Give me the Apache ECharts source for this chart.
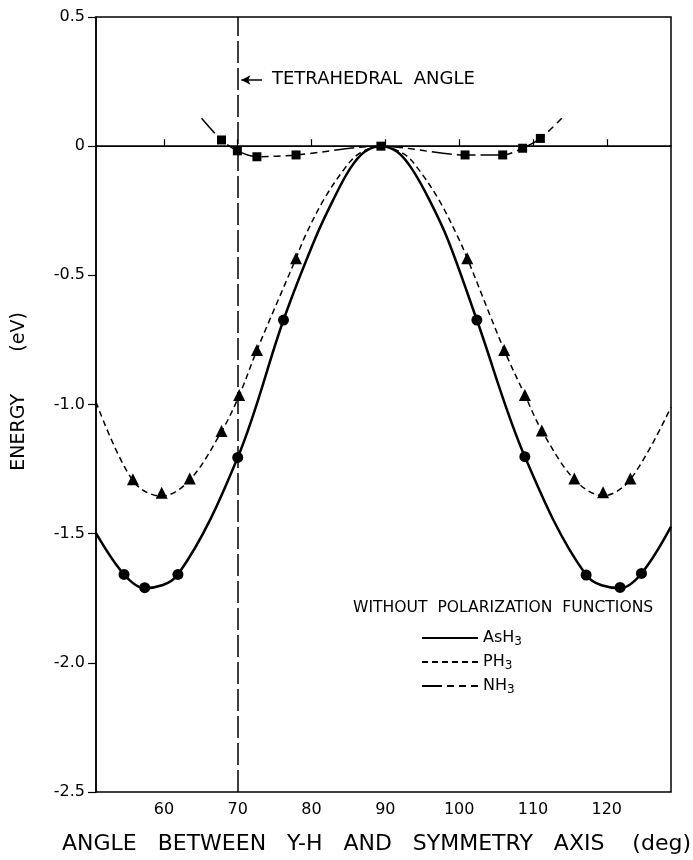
<!DOCTYPE html>
<html>
<head>
<meta charset="utf-8">
<script src="https://cdn.jsdelivr.net/npm/echarts@6/dist/echarts.min.js"></script>
<style>
  html, body { margin: 0; padding: 0; background: #fff; }
  #chart { width: 693px; height: 860px; }
</style>
</head>
<body>
<div id="chart"></div>
<script>
// values (angle in deg, energy in eV)
const xTicks = [60, 70, 80, 90, 100, 110, 120]

// computed points (markers)
const asMarkX = [54.6, 57.4, 61.9, 70.0, 76.2, 102.4, 108.9, 117.2, 121.8, 124.7]
const asMarkY = [-1.658, -1.709, -1.658, -1.205, -0.673, -0.673, -1.202, -1.660, -1.708, -1.654]
const phMarkX = [55.8, 59.7, 63.5, 67.8, 70.2, 72.6, 77.9, 101.1, 106.1, 108.9, 111.2, 115.6, 119.5, 123.2]
const phMarkY = [-1.289, -1.342, -1.286, -1.103, -0.963, -0.789, -0.434, -0.434, -0.789, -0.963, -1.101, -1.286, -1.340, -1.286]
const nhMarkX = [67.8, 69.95, 72.6, 77.9, 89.4, 100.8, 105.9, 108.6, 111.0]
const nhMarkY = [0.024, -0.018, -0.041, -0.034, 0.0, -0.034, -0.034, -0.008, 0.030]

// fitted curves
const asCurveX = [50.8, 54.6, 57.4, 61.9, 70.0, 76.2, 80.4, 82.9, 85.2, 87.2, 89.4, 91.6, 93.6, 96.0, 98.5, 102.4, 108.9, 117.2, 121.8, 124.7, 128.7]
const asCurveY = [-1.498, -1.658, -1.711, -1.658, -1.205, -0.673, -0.364, -0.210, -0.088, -0.022, 0, -0.022, -0.088, -0.210, -0.364, -0.673, -1.202, -1.660, -1.711, -1.654, -1.473]
const phCurveX = [50.8, 55.8, 59.7, 63.5, 67.8, 70.2, 72.6, 77.9, 79.1, 81.6, 84.5, 86.4, 89.4, 92.5, 94.4, 97.3, 99.8, 101.1, 106.1, 108.9, 111.2, 115.6, 119.5, 123.2, 128.7]
const phCurveY = [-0.99, -1.295, -1.355, -1.292, -1.105, -0.965, -0.79, -0.434, -0.35, -0.21, -0.086, -0.030, 0, -0.030, -0.086, -0.21, -0.35, -0.434, -0.789, -0.963, -1.101, -1.29, -1.353, -1.29, -1.01]
const nhCurveX = [65.1, 67.8, 69.95, 72.6, 77.9, 89.4, 100.8, 105.9, 108.6, 111.0, 113.9]
const nhCurveY = [0.108, 0.024, -0.018, -0.041, -0.034, 0.0, -0.034, -0.034, -0.008, 0.030, 0.108]

const tetrahedral = 70

const zip = (xs, ys) => xs.map((x, i) => [x, ys[i]])
const font = 'DejaVu Sans'

const chart = echarts.init(document.getElementById('chart'))

const option = {
  animation: false,
  backgroundColor: '#fff',
  textStyle: { fontFamily: font, color: '#000' },
  grid: {
    left: 96, right: 22, top: 17, bottom: 68,
    outerBoundsMode: 'none',
    show: true, borderColor: '#000', borderWidth: 1.5,
  },
  xAxis: {
    type: 'value',
    min: 50.8,
    max: 128.7,
    name: 'ANGLE   BETWEEN   Y-H   AND   SYMMETRY   AXIS    (deg)',
    nameLocation: 'middle',
    nameGap: 41,
    nameTextStyle: { fontSize: 22, color: '#000', fontFamily: font, padding: [0, 14, 0, 0] },
    axisLine: { show: true, lineStyle: { color: '#000', width: 1.5 } },
    axisTick: { show: true, inside: true, length: 7, customValues: xTicks, lineStyle: { color: '#000', width: 1.2 } },
    axisLabel: { customValues: xTicks, margin: 10, fontSize: 16, color: '#000', fontFamily: font },
    splitLine: { show: false },
  },
  yAxis: {
    type: 'value',
    min: -2.5,
    max: 0.5,
    interval: 0.5,
    name: 'ENERGY       (eV)',
    nameLocation: 'middle',
    nameGap: 67,
    nameRotate: 90,
    nameTextStyle: { fontSize: 19, color: '#000', fontFamily: font, padding: [0, 0, 0, 26] },
    axisLine: { show: true, lineStyle: { color: '#000', width: 1.5 } },
    axisTick: { show: true, inside: false, length: 8, lineStyle: { color: '#000', width: 1.2 } },
    axisLabel: {
      margin: 11, fontSize: 16, color: '#000', fontFamily: font,
      formatter: v => (v === 0 ? '0' : v.toFixed(1)),
    },
    splitLine: { show: false },
  },
  legend: {
    orient: 'vertical',
    left: 421,
    top: 630,
    padding: 0,
    itemWidth: 56,
    itemHeight: 14,
    itemGap: 6,
    data: ['AsH3', 'PH3', 'NH3'],
    itemStyle: { opacity: 0 },
    formatter: n => n.slice(0, -1) + '{s|3}',
    textStyle: {
      fontSize: 16, color: '#000', fontFamily: font,
      rich: { s: { fontSize: 12, padding: [8, 0, 0, 0], fontFamily: font } },
    },
  },
  graphic: [
    {
      type: 'text', left: 272, top: 70,
      style: { text: 'TETRAHEDRAL  ANGLE', font: '18px "DejaVu Sans"', fill: '#000' },
    },
    {
      type: 'text', left: 353, top: 600,
      style: { text: 'WITHOUT  POLARIZATION  FUNCTIONS', font: '15.6px "DejaVu Sans"', fill: '#000' },
    },
  ],
  series: [
    {
      name: 'AsH3',
      type: 'line',
      data: zip(asCurveX, asCurveY),
      smooth: 0.35,
      showSymbol: false,
      symbol: 'none',
      lineStyle: { color: '#000', width: 2.5 },
      itemStyle: { color: '#000' },
      z: 3,
      markLine: {
        silent: true,
        symbol: 'none',
        label: { show: false },
        lineStyle: { color: '#000', width: 1, type: 'solid' },
        data: [
          { yAxis: 0 },
          { xAxis: tetrahedral, lineStyle: { type: [22, 5], width: 1.5 } },
          [
            { coord: [73.3, 0.256], symbol: 'none' },
            { coord: [70.5, 0.256], symbol: 'arrow', symbolSize: [7, 9], lineStyle: { width: 1.5 } },
          ],
        ],
      },
    },
    {
      name: 'PH3',
      type: 'line',
      data: zip(phCurveX, phCurveY),
      smooth: 0.35,
      showSymbol: false,
      symbol: 'none',
      lineStyle: { color: '#000', width: 1.5, type: [6, 4] },
      itemStyle: { color: '#000' },
      z: 3,
    },
    {
      name: 'NH3',
      type: 'line',
      data: zip(nhCurveX, nhCurveY),
      smooth: 0.3,
      showSymbol: false,
      symbol: 'none',
      lineStyle: { color: '#000', width: 1.5, type: [20, 5, 7, 5, 7, 5] },
      itemStyle: { color: '#000' },
      z: 3,
    },
    {
      name: 'AsH3 points',
      type: 'scatter',
      data: zip(asMarkX, asMarkY),
      symbol: 'circle',
      symbolSize: 11,
      itemStyle: { color: '#000', opacity: 1 },
      z: 5,
    },
    {
      name: 'PH3 points',
      type: 'scatter',
      data: zip(phMarkX, phMarkY),
      symbol: 'triangle',
      symbolSize: 12,
      itemStyle: { color: '#000', opacity: 1 },
      z: 5,
    },
    {
      name: 'NH3 points',
      type: 'scatter',
      data: zip(nhMarkX, nhMarkY),
      symbol: 'rect',
      symbolSize: 9,
      itemStyle: { color: '#000', opacity: 1 },
      z: 5,
    },
  ],
}

chart.setOption(option)
</script>
</body>
</html>
